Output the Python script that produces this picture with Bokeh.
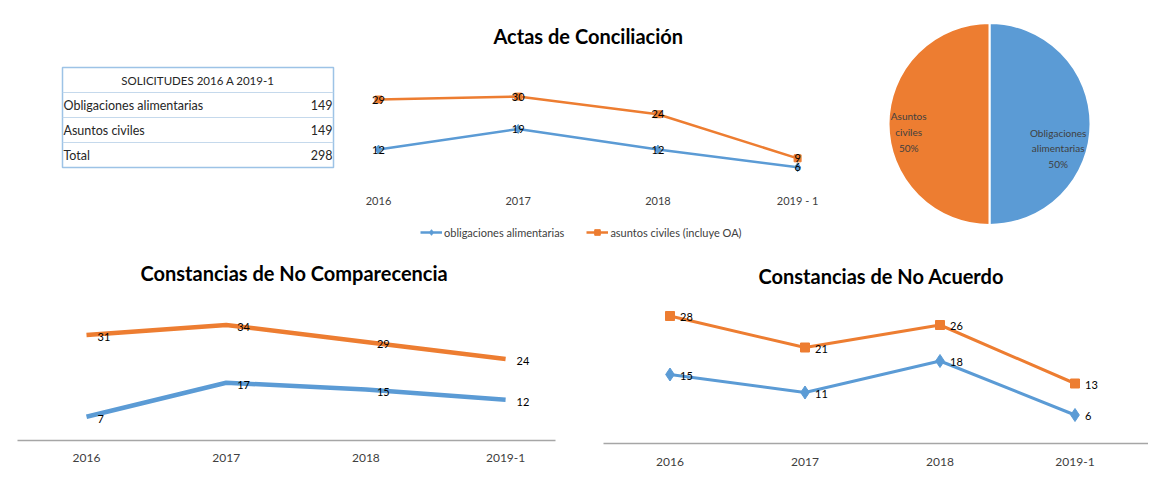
import math
from bokeh.plotting import figure
from bokeh.layouts import row, column
from bokeh.models import ColumnDataSource, Range1d, FixedTicker, Legend, LegendItem
from bokeh.core.properties import value
from bokeh.embed import file_html
from bokeh.resources import INLINE

# ---------------- data ----------------
table_header = "SOLICITUDES 2016 A 2019-1"
table_rows = ["Obligaciones alimentarias", "Asuntos civiles", "Total"]
table_values = [149, 149, 298]

top_title = "Actas de Conciliación"
top_years = ["2016", "2017", "2018", "2019 - 1"]
top_series_names = ["obligaciones alimentarias", "asuntos civiles (incluye OA)"]
actas_oa = [12, 19, 12, 6]
actas_ac = [29, 30, 24, 9]

pie_labels = ["Obligaciones alimentarias", "Asuntos civiles"]
pie_values = [149, 149]

comp_title = "Constancias de No Comparecencia"
bottom_years = ["2016", "2017", "2018", "2019-1"]
comp_oa = [7, 17, 15, 12]
comp_ac = [31, 34, 29, 24]

acuerdo_title = "Constancias de No Acuerdo"
acuerdo_oa = [15, 11, 18, 6]
acuerdo_ac = [28, 21, 26, 13]

# ---------------- style ----------------
FONT = "Lato"
BLUE = "#5B9BD5"
ORANGE = "#ED7D31"
TXT = "#262626"
AXT = "#404040"
PIE_LABEL_R = [0.68, 0.80]        # label distance from centre (per slice)
PIE_LABEL_DY = [-0.24, -0.08]     # vertical nudge of the labels (per slice)


def make_fig(w, h, xr, yr, left, right, top, bottom, xaxis=True):
    kw = dict(y_axis_type=None) if xaxis else dict(x_axis_type=None, y_axis_type=None)
    p = figure(width=w, height=h, x_range=xr, y_range=yr, output_backend="svg",
               toolbar_location=None, min_border_left=left, min_border_right=right,
               min_border_top=top, min_border_bottom=bottom, **kw)
    p.frame_align = False
    p.grid.visible = False
    p.outline_line_color = None
    p.background_fill_color = "white"
    p.border_fill_color = "white"
    return p


def style_xaxis(p, labels, line=True, standoff=10, size="11px"):
    ax = p.xaxis[0]
    ax.ticker = FixedTicker(ticks=list(range(len(labels))))
    ax.major_label_overrides = {i: lab for i, lab in enumerate(labels)}
    ax.major_tick_line_color = None
    ax.minor_tick_line_color = None
    ax.axis_line_color = "#A6A6A6" if line else None
    ax.axis_line_width = 1.5
    ax.major_label_text_font = FONT
    ax.major_label_text_font_size = size
    ax.major_label_text_color = AXT
    ax.major_label_standoff = standoff


def style_title(p, text, size, offset, standoff=10):
    p.title.text = text
    p.title.align = "left"
    p.title.offset = offset
    p.title.standoff = standoff
    p.title.text_font = FONT
    p.title.text_font_size = size
    p.title.text_font_style = "bold"
    p.title.text_color = "#000000"


# ---------------- table ----------------
tbl = make_fig(335, 250, Range1d(0, 1), Range1d(4, 0), 62, 2, 67, 83, xaxis=False)
tbl.outline_line_color = "#9DC3E6"
tbl.outline_line_width = 1.5
tbl.hspan(y=[1, 2, 3], line_color="#C5D9EC", line_width=1.2)
tbl.text(x=[0.5], y=[0.5], text=[table_header], text_align="center", text_baseline="middle",
         text_font=value(FONT), text_font_size="11.5px", text_color=TXT)
tsrc = ColumnDataSource(dict(y=[i + 1.5 for i in range(len(table_rows))], name=table_rows,
                             val=[str(v) for v in table_values]))
tbl.text(x=0, y="y", text="name", source=tsrc, text_align="left", text_baseline="middle",
         x_offset=1, text_font=value(FONT), text_font_size="12.5px", text_color=TXT)
tbl.text(x=1, y="y", text="val", source=tsrc, text_align="right", text_baseline="middle",
         x_offset=-1, text_font=value(FONT), text_font_size="12.5px", text_color=TXT)

# ---------------- top line chart ----------------
px = 139.7
ppu = 2.94
top_src = ColumnDataSource(dict(x=list(range(len(top_years))), oa=actas_oa, ac=actas_ac,
                                 oa_t=[str(v) for v in actas_oa], ac_t=[str(v) for v in actas_ac],
                                 year=top_years, base=[0] * len(top_years)))
tx0 = -(378 - 340) / px
top = make_fig(515, 250, Range1d(tx0, tx0 + 500 / px),
               Range1d(-(250 - 184.3) / ppu, (184.3 - 52) / ppu), 5, 10, 52, 0, xaxis=False)
style_title(top, top_title, "20px", 153)
# category labels under the baseline
top.text("x", "base", text="year", source=top_src, text_align="center", text_baseline="middle",
         y_offset=16, text_font=value(FONT), text_font_size="11px", text_color=AXT)
l1 = top.line("x", "oa", source=top_src, line_color=BLUE, line_width=2.5)
m1 = top.scatter("x", "oa", source=top_src, marker="diamond", size=9, color=BLUE)
l2 = top.line("x", "ac", source=top_src, line_color=ORANGE, line_width=2.5)
m2 = top.scatter("x", "ac", source=top_src, marker="square", size=7, color=ORANGE)
for col, tcol in (("oa", "oa_t"), ("ac", "ac_t")):
    top.text("x", col, text=tcol, source=top_src, text_align="center", text_baseline="middle",
             text_font=value(FONT), text_font_size="11px", text_color="#000000")
leg = Legend(items=[LegendItem(label=top_series_names[0], renderers=[l1, m1]),
                    LegendItem(label=top_series_names[1], renderers=[l2, m2])],
             orientation="horizontal", location=(80, 11), border_line_color=None,
             background_fill_alpha=0, label_text_font=FONT, label_text_font_size="11px",
             label_text_color=AXT, glyph_width=22, glyph_height=14, label_height=14,
             spacing=22, label_standoff=2, padding=2, margin=0)
top.add_layout(leg, "center")

# ---------------- pie ----------------
R = 101.0
pie = make_fig(298, 250, Range1d(-139 / R, 159 / R), Range1d(-126.5 / R, 123.5 / R),
               0, 0, 0, 0, xaxis=False)
total = float(sum(pie_values))
starts, ends, mids = [], [], []
cum = 0.0
for v in pie_values:
    a0 = math.pi / 2 - cum / total * 2 * math.pi
    cum += v
    a1 = math.pi / 2 - cum / total * 2 * math.pi
    starts.append(a0)
    ends.append(a1)
    mids.append((a0 + a1) / 2)
pie_src = ColumnDataSource(dict(start=starts, end=ends, color=[BLUE, ORANGE]))
pie.wedge(x=0, y=0, radius=1, start_angle="start", end_angle="end", direction="clock",
          fill_color="color", line_color="white", line_width=2, source=pie_src)
pie_text = []
for name, v in zip(pie_labels, pie_values):
    words = name.split(" ")
    pie_text.append("\n".join(words) + "\n" + f"{round(v / total * 100)}%")
plab = ColumnDataSource(dict(
    x=[r * math.cos(m) for r, m in zip(PIE_LABEL_R, mids)],
    y=[r * math.sin(m) + dy for r, m, dy in zip(PIE_LABEL_R, mids, PIE_LABEL_DY)],
    t=pie_text))
pie.text("x", "y", text="t", source=plab, text_align="center", text_baseline="middle",
         text_font=value(FONT), text_font_size="10px", text_color=AXT, text_line_height=1.3)

# ---------------- bottom left ----------------
bpx = 139.7
bx0 = -(86 - 17) / bpx
comp_src = ColumnDataSource(dict(x=list(range(len(bottom_years))), oa=comp_oa, ac=comp_ac,
                                 oa_t=[str(v) for v in comp_oa], ac_t=[str(v) for v in comp_ac]))
bl = make_fig(580, 249, Range1d(bx0, bx0 + 538 / bpx), Range1d(0, 148 / 3.4), 17, 25, 42, 59)
style_title(bl, comp_title, "20px", 123, standoff=16)
style_xaxis(bl, bottom_years, line=True, standoff=7, size="12px")
bl.line("x", "ac", source=comp_src, line_color=ORANGE, line_width=4.5)
bl.line("x", "oa", source=comp_src, line_color=BLUE, line_width=4.5)
for col, tcol in (("oa", "oa_t"), ("ac", "ac_t")):
    bl.text("x", col, text=tcol, source=comp_src, text_align="left", text_baseline="middle",
            x_offset=11, y_offset=2, text_font=value(FONT), text_font_size="11px",
            text_color="#000000")

# ---------------- bottom right ----------------
rpx = 135.0
rx0 = -(669.5 - 603) / rpx
acu_src = ColumnDataSource(dict(x=list(range(len(bottom_years))), oa=acuerdo_oa, ac=acuerdo_ac,
                                oa_t=[str(v) for v in acuerdo_oa], ac_t=[str(v) for v in acuerdo_ac]))
br = make_fig(568, 249, Range1d(rx0, rx0 + 545 / rpx), Range1d(-1.5 / 4.5, -1.5 / 4.5 + 148 / 4.5),
              23, 0, 45, 56)
style_title(br, acuerdo_title, "20px", 155, standoff=16)
style_xaxis(br, bottom_years, line=True, standoff=8, size="12px")
br.line("x", "ac", source=acu_src, line_color=ORANGE, line_width=3)
br.scatter("x", "ac", source=acu_src, marker="square", size=9, color=ORANGE)
br.line("x", "oa", source=acu_src, line_color=BLUE, line_width=3)
br.scatter("x", "oa", source=acu_src, marker="diamond", size=13, color=BLUE)
for col, tcol in (("oa", "oa_t"), ("ac", "ac_t")):
    br.text("x", col, text=tcol, source=acu_src, text_align="left", text_baseline="middle",
            x_offset=10, y_offset=1, text_font=value(FONT), text_font_size="11px",
            text_color="#000000")

layout = column(row(tbl, top, pie), row(bl, br))
with open("out.html", "w") as f:
    f.write(file_html(layout, INLINE))
